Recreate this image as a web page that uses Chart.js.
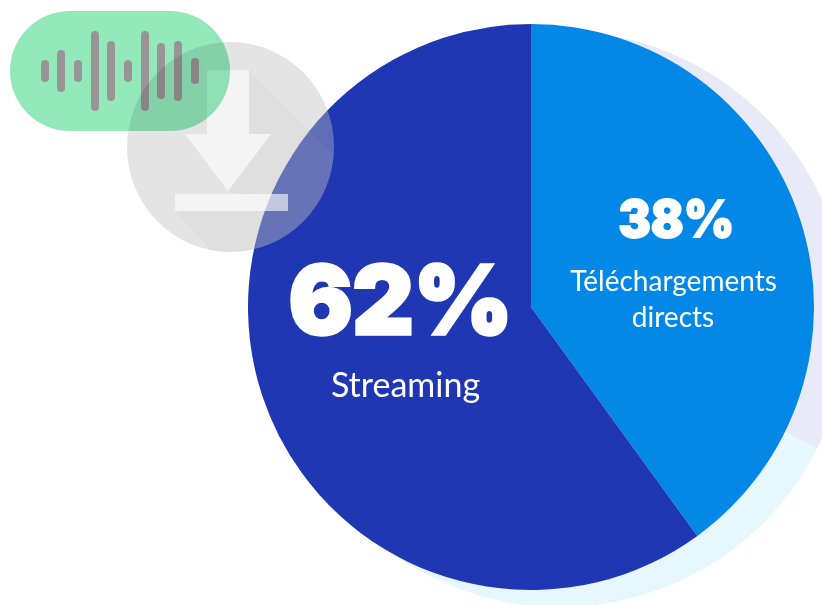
<!DOCTYPE html>
<html lang="fr">
<head>
<meta charset="utf-8">
<style>
html,body{margin:0;padding:0;background:#fff;overflow:hidden;width:822px;height:605px}
canvas{position:absolute}
#shadow{left:272px;top:31px}
#main{left:248px;top:24px}
svg{position:absolute;left:0;top:0}
#pill{mix-blend-mode:multiply}
</style>
<script src="https://cdn.jsdelivr.net/npm/chart.js@4"></script>
</head>
<body>
<canvas id="shadow" width="576" height="576"></canvas>
<canvas id="main" width="566" height="566"></canvas>
<svg width="822" height="605" viewBox="0 0 822 605">
  <defs><clipPath id="disc"><ellipse cx="230.500" cy="147" rx="103.500" ry="105"/></clipPath></defs>
  <ellipse cx="230.500" cy="147" rx="103.500" ry="105" fill="rgb(190,190,190)" fill-opacity="0.41"/>
  <g clip-path="url(#disc)">
    <polygon points="249,70 340,161 340,260 220,260 175,211 288,211 228,191 271,134 249,134" fill="#b0b0b0" fill-opacity="0.09"/>
    <polygon points="207,70 249,70 249,134 271,134 228,191 185,134 207,134" fill="#fff" fill-opacity="0.62"/>
    <rect x="175" y="194" width="113" height="17" fill="#fff" fill-opacity="0.62"/>
  </g>
  <g id="pill">
    <rect x="10" y="11" width="220" height="120" rx="60" ry="60" fill="#94e9bb"/>
    <g id="wave" fill="#999596"></g>
  </g>
</svg>
<script>
// Values as printed on the chart
const categories = ['Téléchargements directs', 'Streaming'];
const printedPercent = [38, 62];
// Shares as the main pie is actually drawn in the picture
const drawnShare = [40, 60];
const sliceColors = ['#0388e7', '#2037b3'];
const shadowColors = ['#e9eaf7', '#e6f7ff'];
// Waveform decoration: centre x, top and bottom of each bar
const waveX = [45, 61, 78, 95, 111, 128, 145, 161, 178, 195];
const waveTop = [60, 50, 60, 31, 41, 60, 31, 43, 41, 58];
const waveBottom = [82, 92, 82, 111, 101, 82, 111, 99, 101, 84];

const wave = document.getElementById('wave');
waveX.forEach((x, i) => {
  const r = document.createElementNS('http://www.w3.org/2000/svg', 'rect');
  r.setAttribute('x', x - 4); r.setAttribute('y', waveTop[i]);
  r.setAttribute('width', 8); r.setAttribute('height', waveBottom[i] - waveTop[i]);
  r.setAttribute('rx', 4);
  wave.appendChild(r);
});

const base = {
  responsive: false, animation: false,
  layout: { padding: 0 },
  plugins: { legend: { display: false }, tooltip: { enabled: false }, title: { display: false } }
};

new Chart(document.getElementById('shadow'), {
  type: 'pie',
  data: { labels: categories, datasets: [{ data: printedPercent, backgroundColor: shadowColors, borderWidth: 0 }] },
  options: { ...base, rotation: -20 }
});

function fitText(ctx, text, cx, top, bottom, width, font, weight) {
  // heavy display numerals, stretched to the box they occupy in the picture
  ctx.save();
  ctx.font = font;
  const m = ctx.measureText(text);
  const w = m.actualBoundingBoxLeft + m.actualBoundingBoxRight + weight;
  const h = m.actualBoundingBoxAscent + m.actualBoundingBoxDescent + weight;
  const sx = width / w, sy = (bottom - top) / h;
  ctx.translate(cx - width / 2, top);
  ctx.scale(sx, sy);
  ctx.textAlign = 'left'; ctx.textBaseline = 'alphabetic';
  ctx.fillStyle = '#fff';
  ctx.strokeStyle = '#fff';
  ctx.lineWidth = weight; ctx.lineJoin = 'miter';
  const x = m.actualBoundingBoxLeft + weight / 2, y = m.actualBoundingBoxAscent + weight / 2;
  ctx.fillText(text, x, y);
  ctx.strokeText(text, x, y);
  ctx.restore();
}

const labelPlugin = {
  id: 'labels',
  afterDraw(chart) {
    const ctx = chart.ctx;
    const ox = -248, oy = -24; // canvas offset on the page
    const numFont = '900 100px Inter, Roboto, sans-serif';
    fitText(ctx, printedPercent[1] + '%', 399 + ox, 263 + oy, 337 + oy, 218, numFont, 3.5);
    fitText(ctx, printedPercent[0] + '%', 675.500 + ox, 198 + oy, 238 + oy, 113, numFont, 3.5);
    ctx.save();
    ctx.fillStyle = '#fff'; ctx.textAlign = 'center'; ctx.textBaseline = 'alphabetic';
    ctx.font = '400 28px Lato, sans-serif';
    ctx.fillText('Téléchargements', 673.500 + ox, 291 + oy);
    ctx.fillText('directs', 673 + ox, 327 + oy);
    ctx.font = '400 34px Lato, sans-serif';
    ctx.fillText(categories[1], 405.500 + ox, 397 + oy);
    ctx.restore();
  }
};

new Chart(document.getElementById('main'), {
  type: 'pie',
  data: { labels: categories, datasets: [{ data: drawnShare, backgroundColor: sliceColors, borderWidth: 0 }] },
  options: base,
  plugins: [labelPlugin]
});
</script>
</body>
</html>
